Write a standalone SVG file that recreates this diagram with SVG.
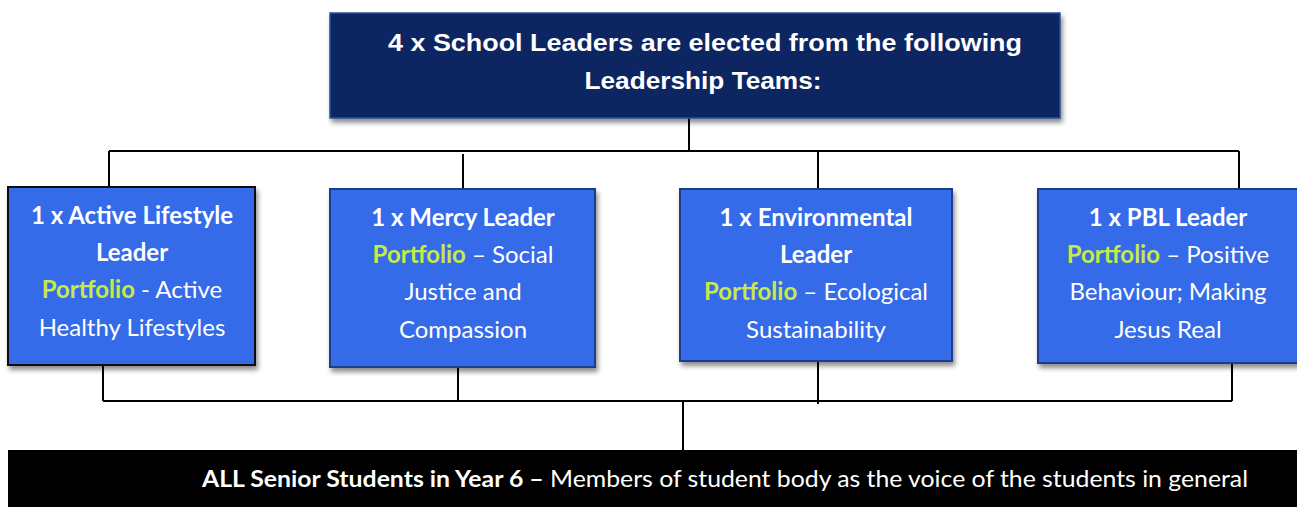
<svg xmlns="http://www.w3.org/2000/svg" width="1297" height="507" viewBox="0 0 1297 507">
  <defs>
    <filter id="shadow" x="-10%" y="-10%" width="125%" height="130%">
      <feGaussianBlur in="SourceAlpha" stdDeviation="2.5"/>
      <feOffset dx="2" dy="4" result="b"/>
      <feComponentTransfer><feFuncA type="linear" slope="0.45"/></feComponentTransfer>
      <feMerge><feMergeNode/><feMergeNode in="SourceGraphic"/></feMerge>
    </filter>
  </defs>
  <style>
    .title { fill: #0b2562; stroke: #2a4f9a; stroke-width: 1.5; }
    .team { fill: #356ae8; stroke: #1c3c8c; stroke-width: 2; }
    .team.black { stroke: #111; }
    .wire { fill: none; stroke: #000; stroke-width: 2; }
    .head { font-family: "Liberation Sans", Arial, sans-serif; font-weight: bold; font-size: 24px; fill: #fff; text-anchor: middle; }
    .lbl { font-family: Lato, "Liberation Sans", sans-serif; font-size: 24px; fill: #fff; text-anchor: middle; }
    .b { font-weight: bold; }
    .pf { font-weight: bold; fill: #c8ea48; }
    .foot { font-family: Lato, "Liberation Sans", sans-serif; font-size: 23px; fill: #fff; }
  </style>
  <rect width="1297" height="507" fill="#fff"/>

  <!-- connectors -->
  <g id="connectors">
    <line class="wire" x1="689" y1="118" x2="689" y2="151"/>
    <line class="wire" x1="109" y1="151" x2="1239" y2="151"/>
    <line class="wire" x1="109" y1="151" x2="109" y2="187"/>
    <line class="wire" x1="463" y1="154" x2="463" y2="189"/>
    <line class="wire" x1="818" y1="151" x2="818" y2="189"/>
    <line class="wire" x1="1239" y1="151" x2="1239" y2="189"/>
    <line class="wire" x1="103" y1="365" x2="103" y2="401"/>
    <line class="wire" x1="458" y1="367" x2="458" y2="401"/>
    <line class="wire" x1="818" y1="361" x2="818" y2="404"/>
    <line class="wire" x1="1232" y1="363" x2="1232" y2="401"/>
    <line class="wire" x1="103" y1="401" x2="1232" y2="401"/>
    <line class="wire" x1="683" y1="401" x2="683" y2="450"/>
  </g>

  <!-- top heading -->
  <g id="school-leaders">
    <rect class="title" x="330" y="13" width="730" height="105" filter="url(#shadow)"/>
    <text class="head" x="705" y="51" textLength="634" lengthAdjust="spacingAndGlyphs">4 x School Leaders are elected from the following</text>
    <text class="head" x="703" y="89" textLength="237" lengthAdjust="spacingAndGlyphs">Leadership Teams:</text>
  </g>

  <!-- leadership teams -->
  <g id="active-lifestyle">
    <rect class="team black" x="8" y="187" width="247" height="178" filter="url(#shadow)"/>
    <text class="lbl b" x="132" y="224">1 x Active Lifestyle</text>
    <text class="lbl b" x="132" y="261">Leader</text>
    <text class="lbl" x="132" y="298"><tspan class="pf">Portfolio</tspan> - Active</text>
    <text class="lbl" x="132" y="336">Healthy Lifestyles</text>
  </g>

  <g id="mercy">
    <rect class="team" x="330" y="189" width="265" height="178" filter="url(#shadow)"/>
    <text class="lbl b" x="463" y="226">1 x Mercy Leader</text>
    <text class="lbl" x="463" y="263"><tspan class="pf">Portfolio</tspan> – Social</text>
    <text class="lbl" x="463" y="300">Justice and</text>
    <text class="lbl" x="463" y="338">Compassion</text>
  </g>

  <g id="environmental">
    <rect class="team" x="680" y="189" width="272" height="172" filter="url(#shadow)"/>
    <text class="lbl b" x="816" y="226">1 x Environmental</text>
    <text class="lbl b" x="816" y="263">Leader</text>
    <text class="lbl" x="816" y="300"><tspan class="pf">Portfolio</tspan> – Ecological</text>
    <text class="lbl" x="816" y="338">Sustainability</text>
  </g>

  <g id="pbl">
    <rect class="team" x="1038" y="189" width="265" height="174" filter="url(#shadow)"/>
    <text class="lbl b" x="1168" y="226">1 x PBL Leader</text>
    <text class="lbl" x="1168" y="263"><tspan class="pf">Portfolio</tspan> – Positive</text>
    <text class="lbl" x="1168" y="300">Behaviour; Making</text>
    <text class="lbl" x="1168" y="338">Jesus Real</text>
  </g>

  <!-- student body -->
  <g id="senior-students">
    <rect x="8" y="450" width="1289" height="57" fill="#000"/>
    <text class="foot" x="202" y="487" textLength="1046" lengthAdjust="spacingAndGlyphs"><tspan class="b">ALL Senior Students in Year 6 –</tspan> Members of student body as the voice of the students in general</text>
  </g>
</svg>
